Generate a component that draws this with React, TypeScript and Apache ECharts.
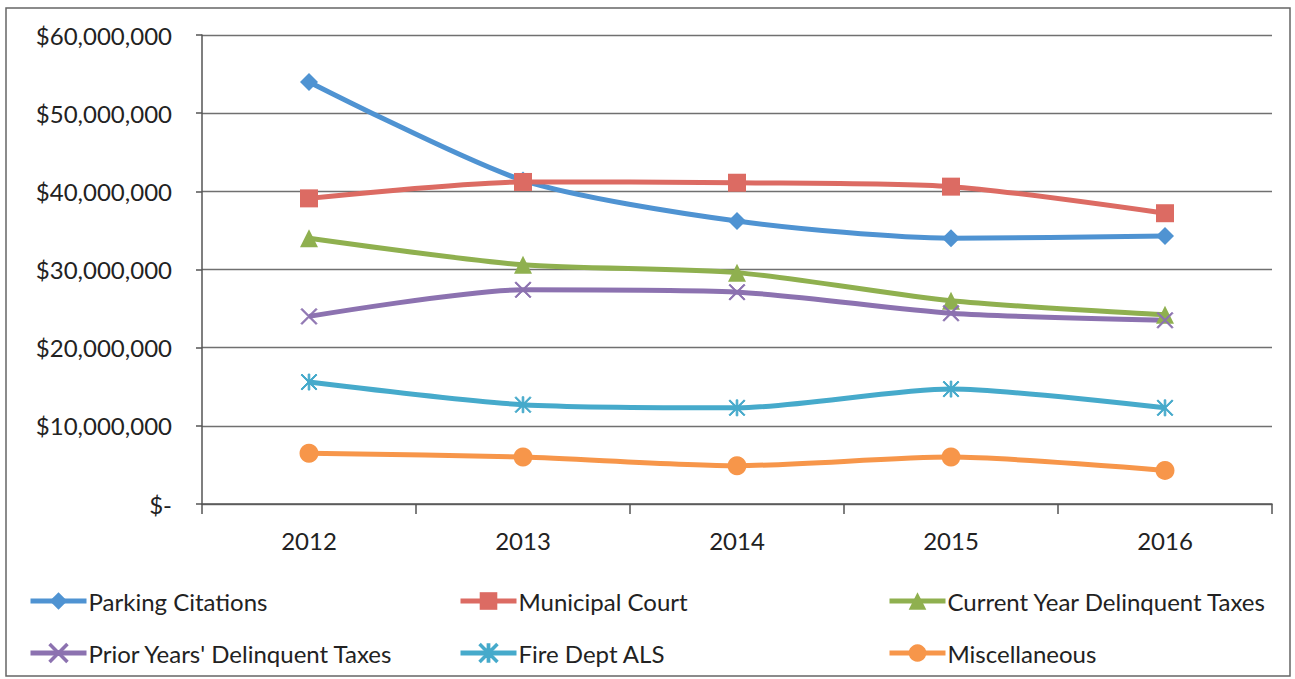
import React, { useEffect, useRef } from "react";
import * as echarts from "echarts";

const categories = ["2012", "2013", "2014", "2015", "2016"];
const parkingCitations = [54000000, 41400000, 36200000, 34000000, 34300000];
const municipalCourt = [39100000, 41200000, 41100000, 40600000, 37200000];
const currentYearDelinquent = [34000000, 30600000, 29600000, 26000000, 24200000];
const priorYearsDelinquent = [24000000, 27400000, 27100000, 24400000, 23500000];
const fireDeptALS = [15600000, 12700000, 12300000, 14700000, 12300000];
const miscellaneous = [6500000, 6000000, 4900000, 6000000, 4300000];
const seriesNames = [
  "Parking Citations",
  "Municipal Court",
  "Current Year Delinquent Taxes",
  "Prior Years' Delinquent Taxes",
  "Fire Dept ALS",
  "Miscellaneous",
];

const FONT = "Lato, 'Open Sans', sans-serif";

const X_PATH =
  "path://M1,0 L8,7 L15,0 L16,1 L9,8 L16,15 L15,16 L8,9 L1,16 L0,15 L7,8 L0,1 Z";
const STAR_PATH =
  "path://M1,0 L8,7 L15,0 L16,1 L9,8 L16,15 L15,16 L8,9 L1,16 L0,15 L7,8 L0,1 Z M7.2,0 L8.8,0 L8.8,16 L7.2,16 Z";

function fmt(v: number): string {
  if (v === 0) return "$-";
  return "$" + v.toLocaleString("en-US");
}

export default function App() {
  const ref = useRef<HTMLDivElement>(null);
  useEffect(() => {
    if (!ref.current) return;
    const chart = echarts.init(ref.current, undefined, { renderer: "svg" });
    const colors = ["#4F93D2", "#DC6B63", "#8FB04F", "#8C72B0", "#46AACB", "#F7964A"];
    const symbols = ["diamond", "rect", "triangle", X_PATH, STAR_PATH, "circle"];
    const sizes = [18, 18, 18, 16, 16, 19];
    const dataSets = [
      parkingCitations,
      municipalCourt,
      currentYearDelinquent,
      priorYearsDelinquent,
      fireDeptALS,
      miscellaneous,
    ];
    const legendPos = [
      { left: 28, top: 589 },
      { left: 458, top: 589 },
      { left: 887, top: 589 },
      { left: 28, top: 641 },
      { left: 458, top: 641 },
      { left: 887, top: 641 },
    ];
    chart.setOption({
      animation: false,
      backgroundColor: "#ffffff",
      grid: { left: 202, right: 23, top: 35, bottom: 175 },
      xAxis: {
        type: "category",
        data: categories,
        boundaryGap: true,
        axisLine: { lineStyle: { color: "#555", width: 1.5 } },
        axisTick: { show: true, length: 10, lineStyle: { color: "#555", width: 1.5 } },
        axisLabel: { fontFamily: FONT, fontSize: 24, color: "#222", margin: 24 },
      },
      yAxis: {
        type: "value",
        min: 0,
        max: 60000000,
        interval: 10000000,
        axisLine: { show: true, lineStyle: { color: "#555", width: 1.5 } },
        axisTick: { show: true, length: 6, lineStyle: { color: "#555", width: 1.5 } },
        splitLine: { lineStyle: { color: "#707070", width: 1.3 } },
        axisLabel: {
          fontFamily: FONT,
          fontSize: 24,
          color: "#222",
          margin: 30,
          formatter: (v: number) => fmt(v),
        },
      },
      legend: seriesNames.map((n, i) => ({
        data: [n],
        left: legendPos[i].left,
        top: legendPos[i].top,
        itemWidth: 56,
        itemHeight: 22,
        itemGap: 0,
        padding: 0,
        lineStyle: { width: 5 },
        textStyle: { fontFamily: FONT, fontSize: 24, color: "#222", padding: [0, 0, 0, -3] },
      })),
      graphic: [
        {
          type: "rect",
          shape: { x: 6, y: 8, width: 1284, height: 668 },
          style: { fill: "none", stroke: "#666", lineWidth: 1.5 },
          silent: true,
          z: -1,
        },
      ],
      series: seriesNames.map((n, i) => ({
        name: n,
        type: "line",
        data: dataSets[i],
        smooth: 0.25,
        symbol: symbols[i],
        symbolSize: sizes[i],
        showAllSymbol: true,
        lineStyle: { color: colors[i], width: 5 },
        itemStyle: {
          color: colors[i],
          borderColor: colors[i],
          borderWidth: i === 3 || i === 4 ? 1 : 0,
        },
      })),
    });
    return () => chart.dispose();
  }, []);
  return (
    <div
      ref={ref}
      style={{ position: "fixed", left: 0, top: 0, width: 1295, height: 679 }}
    />
  );
}
